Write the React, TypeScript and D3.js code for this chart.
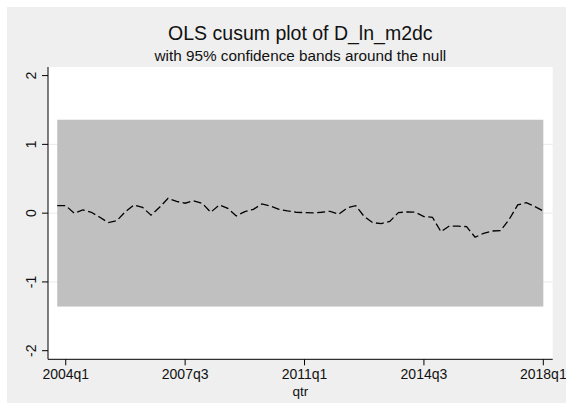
import React from 'react';
import * as d3 from 'd3';

// cusum of recursive residuals, one value per quarter starting 2003q4
const startYear = 2003;
const startQuarter = 4;
const cusum = [
  0.109, 0.109, 0.0, 0.047, 0.013, -0.06, -0.138, -0.108, 0.022, 0.119,
  0.085, -0.03, 0.085, 0.216, 0.17, 0.144, 0.18, 0.144, 0.013, 0.12,
  0.07, -0.04, 0.022, 0.056, 0.134, 0.105, 0.056, 0.032, 0.013, 0.008,
  0.003, 0.013, 0.027, -0.016, 0.076, 0.109, -0.05, -0.138, -0.152, -0.12,
  0.008, 0.017, 0.013, -0.05, -0.06, -0.27, -0.186, -0.19, -0.196, -0.35,
  -0.293, -0.26, -0.254, -0.09, 0.12, 0.153, 0.095, 0.032,
];
const bandCrit = 1.358;
const xTickLabels = ["2004q1", "2007q3", "2011q1", "2014q3", "2018q1"];
const yTicks = [-2, -1, 0, 1, 2];
const gridTicks = [-1, 0, 1];

const width = 566;
const height = 413;
const plotLeft = 48;
const plotRight = 552.7;
const plotTop = 67;
const plotBottom = 359.3;
const font = "'Liberation Sans', Arial, sans-serif";

const qtrToNum = (s: string) => +s.slice(0, 4) + (+s.slice(5) - 1) / 4;

const App = () => {
  const xScale = d3.scaleLinear().domain([2003.48, 2018.275]).range([plotLeft, plotRight]);
  const yScale = d3.scaleLinear().domain([-2.125, 2.125]).range([plotBottom, plotTop]);

  const data = cusum.map((v, i) => ({
    t: startYear + (startQuarter - 1) / 4 + i / 4,
    v,
  }));
  const tFirst = data[0].t;
  const tLast = data[data.length - 1].t;

  const line = d3.line<{t: number, v: number}>()
    .x(d => xScale(d.t))
    .y(d => yScale(d.v));

  return (
    <svg width={width} height={height} style={{display: "block", position: "absolute", left: 0, top: 0}}>
      <rect x={0} y={0} width={width} height={height} fill="white"/>
      <rect x={7} y={7} width={width - 7} height={396} fill="#efefef"/>
      <rect x={plotLeft} y={plotTop} width={plotRight - plotLeft} height={plotBottom - plotTop} fill="white"/>
      {gridTicks.map(t => (
        <line key={t} x1={plotLeft} x2={plotRight} y1={yScale(t)} y2={yScale(t)} stroke="#eaeaea" strokeWidth={1}/>
      ))}
      <rect x={xScale(tFirst)} y={yScale(bandCrit)} width={xScale(tLast) - xScale(tFirst)}
        height={yScale(-bandCrit) - yScale(bandCrit)} fill="#c0c0c0"/>
      <path d={line(data) ?? ""} fill="none" stroke="black" strokeWidth={1.3} strokeDasharray="8 3.5"/>

      {/* title */}
      <text x={(plotLeft + plotRight) / 2} y={40} textAnchor="middle" fontFamily={font} fontSize={19.5} fill="#111">
        OLS cusum plot of D_ln_m2dc
      </text>
      <text x={(plotLeft + plotRight) / 2} y={61} textAnchor="middle" fontFamily={font} fontSize={15.3} fill="#111">
        with 95% confidence bands around the null
      </text>

      {/* y axis */}
      <line x1={plotLeft} x2={plotLeft} y1={plotTop} y2={plotBottom} stroke="black" strokeWidth={1}/>
      {yTicks.map(t => (
        <g key={t} transform={`translate(0, ${yScale(t)})`}>
          <line x1={plotLeft - 6} x2={plotLeft} stroke="black" strokeWidth={1}/>
          <text transform={`translate(36, 0) rotate(-90)`} textAnchor="middle" fontFamily={font} fontSize={14} fill="#111">
            {t}
          </text>
        </g>
      ))}

      {/* x axis */}
      <line x1={plotLeft} x2={plotRight} y1={plotBottom} y2={plotBottom} stroke="black" strokeWidth={1}/>
      {xTickLabels.map(lbl => (
        <g key={lbl} transform={`translate(${xScale(qtrToNum(lbl))}, ${plotBottom})`}>
          <line y1={0} y2={6} stroke="black" strokeWidth={1}/>
          <text y={19.5} textAnchor="middle" fontFamily={font} fontSize={14} fill="#111">{lbl}</text>
        </g>
      ))}
      <text x={(plotLeft + plotRight) / 2} y={396} textAnchor="middle" fontFamily={font} fontSize={13.5} fill="#111">qtr</text>
    </svg>
  );
};

export default App;
